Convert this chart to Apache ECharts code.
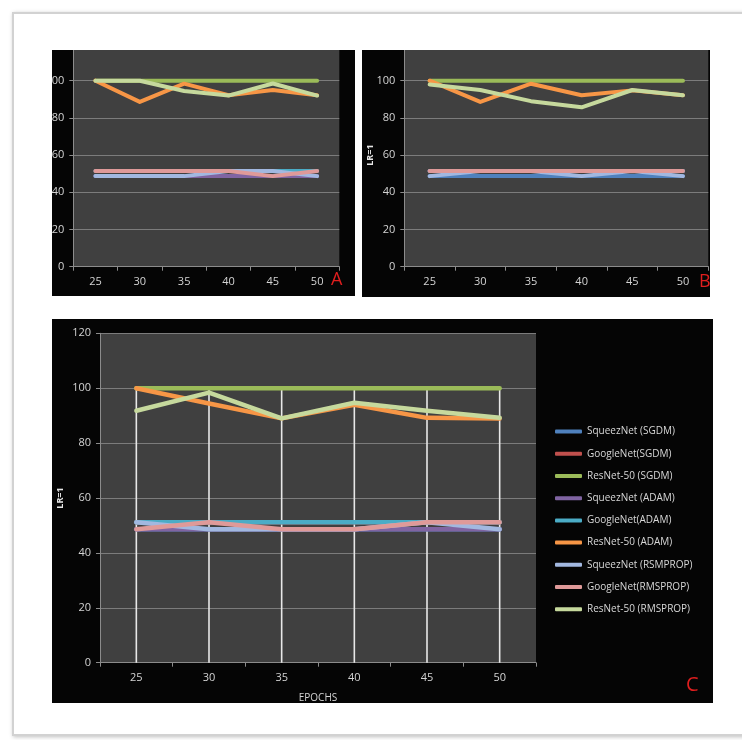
<!DOCTYPE html>
<html>
<head>
<meta charset="utf-8">
<script src="https://cdn.jsdelivr.net/npm/echarts@6/dist/echarts.min.js"></script>
<style>
  html, body { margin: 0; padding: 0; background: #fff; }
  body { width: 742px; height: 740px; position: relative; overflow: hidden; }
  #frame {
    position: absolute; left: 12px; top: 12px; width: 740px; height: 720px;
    border: 2px solid #d2d2d2; box-shadow: 1px 1px 4px rgba(0,0,0,0.25);
  }
  .panel { position: absolute; background: #050505; }
  #pa { left: 52px; top: 50px; width: 303px; height: 246px; }
  #pb { left: 362px; top: 50px; width: 348px; height: 247px; }
  #pc { left: 52px; top: 319px; width: 661px; height: 384px; }
</style>
</head>
<body>
<div id="frame"></div>
<div id="pa" class="panel"></div>
<div id="pb" class="panel"></div>
<div id="pc" class="panel"></div>
<script>
const epochs = ['25', '30', '35', '40', '45', '50'];
const names = [
  'SqueezNet (SGDM)', 'GoogleNet(SGDM)', 'ResNet-50 (SGDM)',
  'SqueezNet (ADAM)', 'GoogleNet(ADAM)', 'ResNet-50 (ADAM)',
  'SqueezNet (RSMPROP)', 'GoogleNet(RMSPROP)', 'ResNet-50 (RMSPROP)'
];
const colors = ['#4f81bd', '#c0504d', '#9bbb59', '#8064a2', '#4bacc6', '#f79646', '#a2b8e0', '#df9a99', '#c6d99d'];
const yMax = 120;
const yStep = 20;

// panel A
const aSqueezSgdm = [48.7, 48.7, 48.7, 48.7, 48.7, 48.7];
const aGoogleSgdm = [51.5, 51.5, 51.5, 51.5, 51.5, 51.5];
const aResnetSgdm = [100, 100, 100, 100, 100, 100];
const aSqueezAdam = [48.7, 48.7, 48.7, 48.7, 48.7, 48.7];
const aGoogleAdam = [51.5, 51.5, 51.5, 51.5, 51.5, 51.5];
const aResnetAdam = [100, 88.6, 98.4, 92.2, 95, 92.2];
const aSqueezRms = [48.7, 48.7, 48.7, 51.5, 51.5, 48.7];
const aGoogleRms = [51.5, 51.5, 51.5, 51.5, 48.7, 51.5];
const aResnetRms = [100, 100, 94.5, 92, 98.5, 92];

// panel B
const bSqueezSgdm = [48.7, 48.7, 48.7, 48.7, 48.7, 48.7];
const bGoogleSgdm = [51.5, 51.5, 51.5, 51.5, 51.5, 51.5];
const bResnetSgdm = [100, 100, 100, 100, 100, 100];
const bSqueezAdam = [51.5, 51.5, 51.5, 51.5, 51.5, 51.5];
const bGoogleAdam = [51.5, 51.5, 51.5, 51.5, 51.5, 51.5];
const bResnetAdam = [100, 88.6, 98.4, 92.2, 94.8, 92.2];
const bSqueezRms = [48.7, 51.5, 51.5, 48.7, 51.5, 48.7];
const bGoogleRms = [51.5, 51.5, 51.5, 51.5, 51.5, 51.5];
const bResnetRms = [98, 95, 89, 85.7, 95, 92.2];

// panel C
const cSqueezSgdm = [48.6, 48.6, 48.6, 48.6, 48.6, 48.6];
const cGoogleSgdm = [51.2, 51.2, 51.2, 51.2, 51.2, 51.2];
const cResnetSgdm = [100, 100, 100, 100, 100, 100];
const cSqueezAdam = [48.6, 48.6, 48.6, 48.6, 48.6, 48.6];
const cGoogleAdam = [51.2, 51.2, 51.2, 51.2, 51.2, 51.2];
const cResnetAdam = [100, 94.4, 89, 94, 89.2, 89];
const cSqueezRms = [51.2, 48.6, 48.6, 48.6, 51.2, 48.6];
const cGoogleRms = [48.6, 51.2, 48.6, 48.6, 51.2, 51.2];
const cResnetRms = [91.8, 98.4, 89, 94.7, 91.8, 89.2];

const panelA = [aSqueezSgdm, aGoogleSgdm, aResnetSgdm, aSqueezAdam, aGoogleAdam, aResnetAdam, aSqueezRms, aGoogleRms, aResnetRms];
const panelB = [bSqueezSgdm, bGoogleSgdm, bResnetSgdm, bSqueezAdam, bGoogleAdam, bResnetAdam, bSqueezRms, bGoogleRms, bResnetRms];
const panelC = [cSqueezSgdm, cGoogleSgdm, cResnetSgdm, cSqueezAdam, cGoogleAdam, cResnetAdam, cSqueezRms, cGoogleRms, cResnetRms];

const font = 'Open Sans';
const labelColor = '#d4d4d4';
const gridColor = '#7c7c7c';

function lines(data, width) {
  return data.map((d, i) => ({
    name: names[i],
    type: 'line',
    data: d,
    symbol: 'none',
    showSymbol: false,
    animation: false,
    itemStyle: { color: colors[i] },
    lineStyle: { width: width, color: colors[i], cap: 'round', join: 'round' }
  }))
}

function panelOption(data, grid, opts) {
  return {
    animation: false,
    backgroundColor: 'transparent',
    title: {
      text: opts.letter,
      left: opts.letterPos[0],
      top: opts.letterPos[1],
      padding: 0,
      textStyle: { color: '#e01e1e', fontSize: opts.letterSize, fontWeight: 'normal', fontFamily: font }
    },
    grid: Object.assign({
      backgroundColor: '#404040', show: true, borderWidth: 0,
      containLabel: false, outerBoundsMode: 'none'
    }, grid),
    xAxis: {
      type: 'category',
      data: epochs,
      name: opts.xName || '',
      nameLocation: 'middle',
      nameGap: 30,
      nameMoveOverlap: false,
      nameTextStyle: { color: labelColor, fontSize: 10, fontFamily: font },
      axisLine: { lineStyle: { color: '#8c8c8c', width: 1 } },
      axisTick: { show: true, length: 4, lineStyle: { color: '#8c8c8c' } },
      axisLabel: { color: labelColor, fontSize: 11, fontFamily: font, margin: 10 },
      splitLine: { show: false }
    },
    yAxis: {
      type: 'value',
      min: 0,
      max: yMax,
      interval: yStep,
      name: opts.yName || '',
      nameLocation: 'middle',
      nameRotate: 90,
      nameGap: opts.yNameGap || 30,
      nameMoveOverlap: false,
      nameTextStyle: { color: '#e6e6e6', fontSize: 9, fontWeight: 'bold', fontFamily: font },
      axisLine: { show: true, lineStyle: { color: '#8c8c8c', width: 1 } },
      axisTick: { show: true, length: 4, lineStyle: { color: '#8c8c8c' } },
      axisLabel: { color: labelColor, fontSize: 11, fontFamily: font, margin: 9 },
      splitLine: { show: true, lineStyle: { color: gridColor, width: 1 } }
    },
    series: lines(data, opts.lineWidth)
  }
}

// A
const chartA = echarts.init(document.getElementById('pa'), null, { renderer: 'canvas' });
chartA.setOption(panelOption(panelA,
  { left: 21.3, top: -6.5, width: 266, height: 223.2 },
  { letter: 'A', letterPos: [279, 221], letterSize: 18, lineWidth: 4 }));

// B
const chartB = echarts.init(document.getElementById('pb'), null, { renderer: 'canvas' });
chartB.setOption(panelOption(panelB,
  { left: 42.3, top: -6.5, width: 304, height: 223.2 },
  { letter: 'B', letterPos: [337, 223], letterSize: 18, lineWidth: 4, yName: 'LR=1', yNameGap: 29 }));

// C
const chartC = echarts.init(document.getElementById('pc'), null, { renderer: 'canvas' });
const optC = panelOption(panelC,
  { left: 48, top: 14.3, width: 436, height: 329.4 },
  { letter: 'C', letterPos: [634, 356], letterSize: 20, lineWidth: 4.5, yName: 'LR=1', yNameGap: 35, xName: 'EPOCHS' });
// drop lines from the highest point of each epoch down to the axis
const dropTop = epochs.map((_, j) => Math.max(...panelC.map(s => s[j])));
optC.series.unshift({
  name: 'drop',
  type: 'bar',
  data: dropTop,
  barWidth: 1.6,
  itemStyle: { color: '#e8e8e8' },
  silent: true,
  animation: false
});
optC.legend = {
  data: names,
  orient: 'vertical',
  left: 503,
  top: 105.6,
  padding: 0,
  itemWidth: 27,
  itemHeight: 4,
  itemGap: 8.2,
  icon: 'roundRect',
  selectedMode: false,
  textStyle: { color: '#d8d8d8', fontSize: 10, lineHeight: 14, fontFamily: font }
};
chartC.setOption(optC);
</script>
</body>
</html>
